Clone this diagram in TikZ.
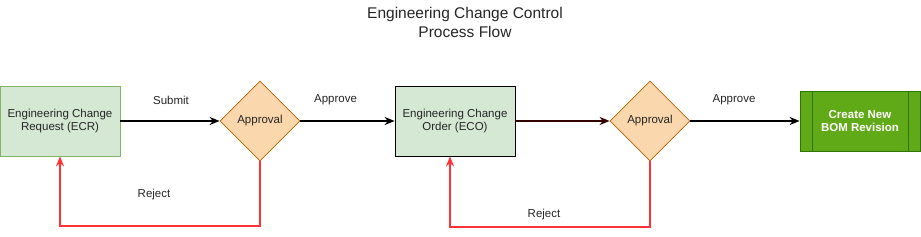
\documentclass[tikz,border=0pt]{standalone}
\usepackage{fontspec}
\setmainfont{Liberation Sans}
\usepackage{xcolor}
\usepackage{tikz}
\usetikzlibrary{shapes.geometric,arrows.meta,positioning}
\definecolor{boxgreen}   {RGB}{213,232,212}
\definecolor{boxgreendk} {RGB}{130,179,102}
\definecolor{decorange}  {RGB}{250,215,172}
\definecolor{decorangedk}{RGB}{180,101,4}
\definecolor{rejectred}  {RGB}{255,51,51}
\definecolor{bomgreen}   {RGB}{96,169,23}
\definecolor{bomgreendk} {RGB}{45,118,0}
\definecolor{darkmaroon} {RGB}{51,0,0}

\begin{document}
\begin{tikzpicture}[
      x=1pt, y=-1pt,
      font=\fontsize{11.5}{13.5}\selectfont, >={Stealth[length=10pt,width=8pt]},
      every node/.style={align=center},
      stagebox/.style={rectangle, draw=#1, fill=boxgreen,
        minimum width=120pt, minimum height=70pt, line width=0.8pt, text=black!85},
      decision/.style={diamond, draw=decorangedk, fill=decorange, aspect=1,
        minimum width=80pt, minimum height=80pt, inner sep=0pt, line width=0.8pt, text=black!85},
      procbox/.style={rectangle, draw=bomgreendk, fill=bomgreen, text=white,
        font=\fontsize{11.5}{13.5}\selectfont\bfseries,
        minimum width=120pt, minimum height=60pt, line width=0.8pt},
      arr/.style={->, line width=1.5pt, color=#1},
      arr/.default=black,
      rej/.style={->, line width=1.5pt, color=rejectred},
      lbl/.style={text=black!85},
    ]
    \useasboundingbox (0,0) rectangle (921,237);

    % ── TITLE ───────────────────────────────────────────────────
    \node[font=\fontsize{15.5}{19}\selectfont, text=black!85] (title) at (465,22)
      {Engineering Change Control\\Process Flow};

    % ── STAGES ──────────────────────────────────────────────────
    \node[stagebox=boxgreendk] (ecr) at (60,121) {Engineering Change\\Request (ECR)};
    \node[decision] (appr1) at (260,121) {Approval};
    \node[stagebox=black] (eco) at (455,121) {Engineering Change\\Order (ECO)};
    \node[decision] (appr2) at (650,121) {Approval};
    \node[procbox] (bom) at (860,121) {Create New\\BOM Revision};
    \draw[bomgreendk, line width=0.8pt] ([xshift=13pt]bom.north west) -- ([xshift=13pt]bom.south west);
    \draw[bomgreendk, line width=0.8pt] ([xshift=-12pt]bom.north east) -- ([xshift=-12pt]bom.south east);

    % ── FORWARD FLOW ────────────────────────────────────────────
    \draw[arr] (ecr) -- node[lbl, above=12pt, xshift=1pt]{Submit} (appr1);
    \draw[arr] (appr1) -- node[lbl, above=12pt, xshift=-12pt]{Approve} (eco);
    \draw[arr=darkmaroon] (eco) -- (appr2);
    \draw[arr] (appr2) -- node[lbl, above=12pt, xshift=-11pt]{Approve} (bom);

    % ── REJECT LOOPS ────────────────────────────────────────────
    \coordinate (r1) at (260,226);
    \coordinate (r2) at (60,226);
    \draw[rej] (appr1.south) -- (r1) -- (r2) -- (ecr.south);
    \node[lbl] (rej1) at (154,195) {Reject};

    \coordinate (r3) at (650,227);
    \coordinate (r4) at (450,227);
    \draw[rej] (appr2.south) -- (r3) -- (r4) -- (eco.south -| r4);
    \node[lbl] (rej2) at (544,215) {Reject};

    \end{tikzpicture}
\end{document}
